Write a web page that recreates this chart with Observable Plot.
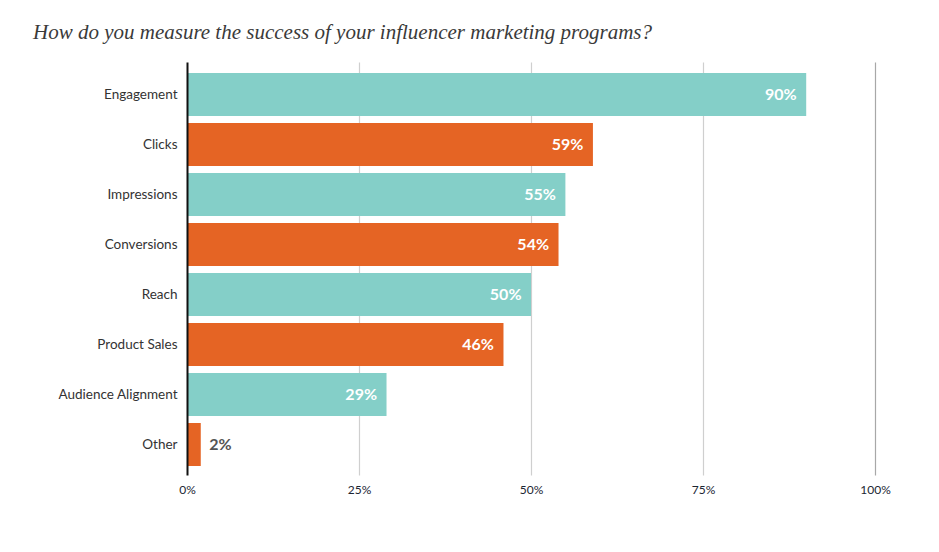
<!DOCTYPE html>
<html>
<head>
<meta charset="utf-8">
<script src="https://cdn.jsdelivr.net/npm/d3@7"></script>
<script src="https://cdn.jsdelivr.net/npm/@observablehq/plot@0.6"></script>
<style>
  body { margin: 0; background: #fff; width: 939px; height: 552px; overflow: hidden; }
  #title { height: 60px; box-sizing: border-box; padding: 20px 0 0 33px; font-family: "Liberation Serif", serif; font-style: italic; font-size: 21px; color: #3a3a3a; }
  svg { display: block; }
</style>
</head>
<body>
<div id="title">How do you measure the success of your influencer marketing programs?</div>
<div id="chart"></div>
<script>
const categories = ["Engagement", "Clicks", "Impressions", "Conversions", "Reach", "Product Sales", "Audience Alignment", "Other"];
const values = [90, 59, 55, 54, 50, 46, 29, 2];
const groups = ["A", "B", "A", "B", "A", "B", "A", "B"];
const tickValues = [0, 25, 50, 75, 100];
const gridValues = [25, 50, 75, 100];

const data = categories.map((c, i) => ({category: c, value: values[i], group: groups[i]}));
const inside = data.filter(d => d.value >= 10);
const outside = data.filter(d => d.value < 10);

const chart = Plot.plot({
  width: 939,
  height: 492,
  marginTop: 5.5,
  marginBottom: 79.5,
  marginLeft: 187,
  marginRight: 64,
  style: {fontFamily: "Lato, sans-serif", background: "#fff"},
  x: {domain: [0, 100], axis: null},
  y: {domain: categories, padding: 0.14, axis: null},
  color: {type: "ordinal", domain: ["A", "B"], range: ["#84cfc8", "#e56424"]},
  marks: [
    Plot.ruleX(gridValues, {stroke: d => d === 100 ? "#a8a8a8" : "#cfcfcf", strokeWidth: 1.2, insetTop: -3, insetBottom: -3}),
    Plot.barX(data, {y: "category", x: "value", fill: "group"}),
    Plot.ruleX([0], {stroke: "#111", strokeWidth: 2, insetTop: -3, insetBottom: -3}),
    Plot.text(data, {y: "category", text: "category", frameAnchor: "left", textAnchor: "end", dx: -10, fontSize: 13.5, fill: "#333"}),
    Plot.text(inside, {y: "category", x: "value", text: d => d.value + "%", textAnchor: "end", dx: -10, fill: "#fff", fontSize: 16, fontWeight: "bold"}),
    Plot.text(outside, {y: "category", x: "value", text: d => d.value + "%", textAnchor: "start", dx: 8, fill: "#555", fontSize: 16, fontWeight: "bold"}),
    Plot.axisX(tickValues, {tickSize: 0, tickPadding: 12, tickFormat: d => d + "%", fontSize: 12, color: "#1c2633", label: null})
  ]
});
document.getElementById("chart").appendChild(chart);
</script>
</body>
</html>
